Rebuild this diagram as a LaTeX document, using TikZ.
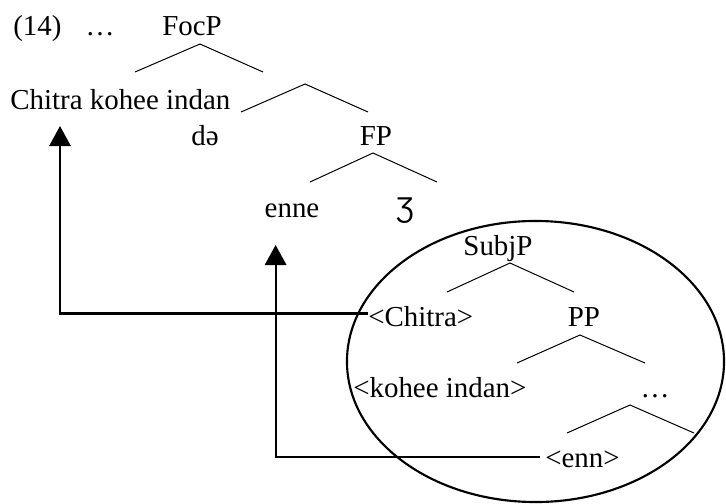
\documentclass[tikz,border=0pt]{standalone}
\usepackage{fontspec}
\setmainfont{Liberation Serif}
\newfontfamily\ezhfont{Liberation Sans}
\usetikzlibrary{arrows.meta}
\begin{document}
\begin{tikzpicture}[x=0.75pt,y=-0.75pt,
  lbl/.style={anchor=base,inner sep=0pt,font=\fontsize{21.7pt}{26pt}\selectfont},
  lbll/.style={lbl,anchor=base west},
  br/.style={line width=0.75pt},
  mv/.style={line width=1.6pt,-{Triangle[length=15pt,width=16pt]}},
  ring/.style={line width=1.6pt}]
\useasboundingbox (0,0) rectangle (726,504);
% labels
\node[lbll] (num) at (13,35) {(14)};
\node[lbl] (dotsa) at (100,35) {…};
\node[lbl] (focp) at (192,35) {FocP};
\node[lbll] (cki) at (10,109) {Chitra kohee indan};
\node[lbl] (de) at (205,145) {də};
\node[lbl] (fp) at (376,145) {FP};
\node[lbl] (enne) at (292,217) {enne};
\node[lbl] (ezh) at (405,217) {\ezhfont\fontsize{21.5pt}{24pt}\selectfont Ʒ};
\node[lbl] (subjp) at (498,255) {SubjP};
\node[lbll] (chitra) at (368,326) {<Chitra>};
\node[lbl] (pp) at (584,326) {PP};
\node[lbll] (kohee) at (353,397) {<kohee indan>};
\node[lbl] (dotsb) at (655,397) {…};
\node[lbll] (enn) at (545,467) {<enn>};
% branches
\foreach \n/\ax/\ay/\lx/\rx/\by in {b1/200/44/135/263/72, b2/305/84/241/368/112,
  b3/373/153/310/437/182, b4/510/263/447/574/292, b5/580/335/517/645/363,
  b6/630/405/567/694/433} {
  \coordinate (\n) at (\ax,\ay);
  \coordinate (\n l) at (\lx,\by);
  \coordinate (\n r) at (\rx,\by);
  \draw[br] (\n l) -- (\n) -- (\n r);
}
% ellipse
\draw[ring] (535.5,361.5) ellipse [x radius=141.4pt, y radius=105.4pt];
% movement arrows
\coordinate (t1) at (60,126);
\coordinate (t2) at (275.6,245);
\draw[mv] ([yshift=2pt]chitra.west) -| (t1);
\draw[mv] ([xshift=-3.75pt,yshift=1.2pt]enn.west) -| (t2);
\end{tikzpicture}
\end{document}
